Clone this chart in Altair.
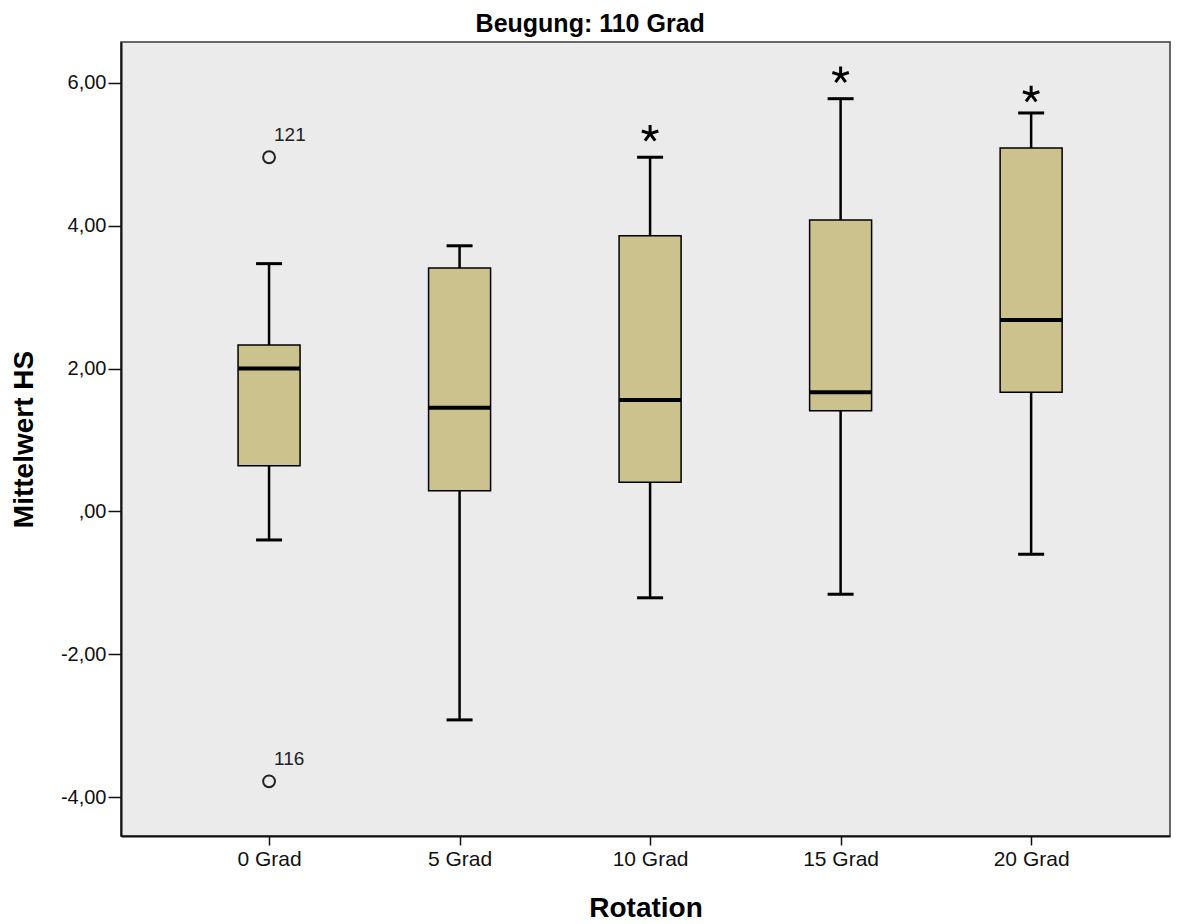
import altair as alt
import pandas as pd

# ---- data ----
categories = ["0 Grad", "5 Grad", "10 Grad", "15 Grad", "20 Grad"]
whisker_low = [-0.40, -2.92, -1.21, -1.16, -0.60]
q1 = [0.64, 0.29, 0.41, 1.41, 1.67]
median = [2.00, 1.45, 1.56, 1.67, 2.68]
q3 = [2.33, 3.41, 3.86, 4.08, 5.09]
whisker_high = [3.47, 3.72, 4.96, 5.78, 5.58]

outlier_cats = ["0 Grad", "0 Grad"]
outlier_vals = [4.96, -3.78]
outlier_labels = ["121", "116"]

extreme_cats = ["10 Grad", "15 Grad", "20 Grad"]
extreme_vals = [5.29, 6.11, 5.84]

y_ticks = [-4, -2, 0, 2, 4, 6]

FONT = "Liberation Sans"
BOX_FILL = "#CCC28D"

boxes = pd.DataFrame({
    "Rotation": categories,
    "low": whisker_low,
    "q1": q1,
    "median": median,
    "q3": q3,
    "high": whisker_high,
})
outliers = pd.DataFrame({"Rotation": outlier_cats, "v": outlier_vals, "label": outlier_labels})
extremes = pd.DataFrame({"Rotation": extreme_cats, "v": extreme_vals})

x_enc = alt.X(
    "Rotation:N",
    sort=categories,
    scale=alt.Scale(type="point", padding=0.753, align=0.516),
    axis=alt.Axis(
        title="Rotation",
        labelAngle=0,
        labelFontSize=21,
        labelFont=FONT,
        labelColor="#111",
        labelPadding=3,
        tickSize=9,
        tickColor="#111",
        tickWidth=1.5,
        domainColor="#111",
        domainWidth=2,
        titleFont=FONT,
        titleFontSize=28,
        titleFontWeight="bold",
        titleColor="#000",
        titlePadding=25,
        grid=False,
    ),
)

y_scale = alt.Scale(domain=[-4.546, 6.574], nice=False, zero=False)
y_axis = alt.Axis(
    title="Mittelwert HS",
    values=y_ticks,
    labelExpr="datum.value == 0 ? ',00' : (datum.value < 0 ? '-' : '') + abs(datum.value) + ',00'",
    labelFontSize=20,
    labelFont=FONT,
    labelColor="#111",
    labelPadding=2,
    tickSize=13,
    tickColor="#111",
    tickWidth=1.5,
    domainColor="#111",
    domainWidth=2,
    titleFont=FONT,
    titleFontSize=28,
    titleFontWeight="bold",
    titleColor="#000",
    titlePadding=22,
    grid=False,
)

base = alt.Chart(boxes)

whiskers = base.mark_rule(color="#000", strokeWidth=2.5, opacity=1).encode(
    x=x_enc,
    y=alt.Y("low:Q", scale=y_scale, axis=y_axis),
    y2="high:Q",
)

box = base.mark_bar(size=62, fill=BOX_FILL, stroke="#000", strokeWidth=1.5, opacity=1).encode(
    x=x_enc,
    y="q1:Q",
    y2="q3:Q",
)

med = base.mark_tick(size=62, thickness=4, color="#000", orient="horizontal", opacity=1).encode(
    x=x_enc,
    y="median:Q",
)

cap_low = base.mark_tick(size=26, thickness=3, color="#000", orient="horizontal", opacity=1).encode(
    x=x_enc,
    y="low:Q",
)
cap_high = base.mark_tick(size=26, thickness=3, color="#000", orient="horizontal", opacity=1).encode(
    x=x_enc,
    y="high:Q",
)

out_pts = alt.Chart(outliers).mark_point(
    shape="circle", size=140, filled=False, stroke="#222", strokeWidth=2, opacity=1
).encode(x=x_enc, y="v:Q")

out_txt = alt.Chart(outliers).mark_text(
    align="left", baseline="alphabetic", dx=5, dy=-16, fontSize=19, font=FONT, color="#222"
).encode(x=x_enc, y="v:Q", text="label:N")

asterisk = "M0,0L0,-1M0,0L0.951,-0.309M0,0L0.588,0.809M0,0L-0.588,0.809M0,0L-0.951,-0.309"
ext_pts = alt.Chart(extremes).mark_point(
    shape=asterisk, size=300, filled=False, stroke="#000", strokeWidth=3, opacity=1
).encode(x=x_enc, y="v:Q")

chart = alt.layer(
    whiskers, box, med, cap_low, cap_high, out_pts, out_txt, ext_pts
).properties(
    width=1049,
    height=794,
    background="white",
    autosize=alt.AutoSizeParams(type="none"),
    padding={"left": 121, "top": 42, "right": 8, "bottom": 88},
    title=alt.TitleParams(
        "Beugung: 110 Grad",
        font=FONT,
        fontSize=25,
        fontWeight="bold",
        color="#000",
        anchor="middle",
        frame="bounds",
        baseline="bottom",
        offset=7,
        dy=27,
    ),
).configure_view(
    fill="#EBEBEB", stroke="#3a3a3a", strokeWidth=1.5
)

chart.save("out.html", embed_options={"renderer": "svg", "actions": False})
